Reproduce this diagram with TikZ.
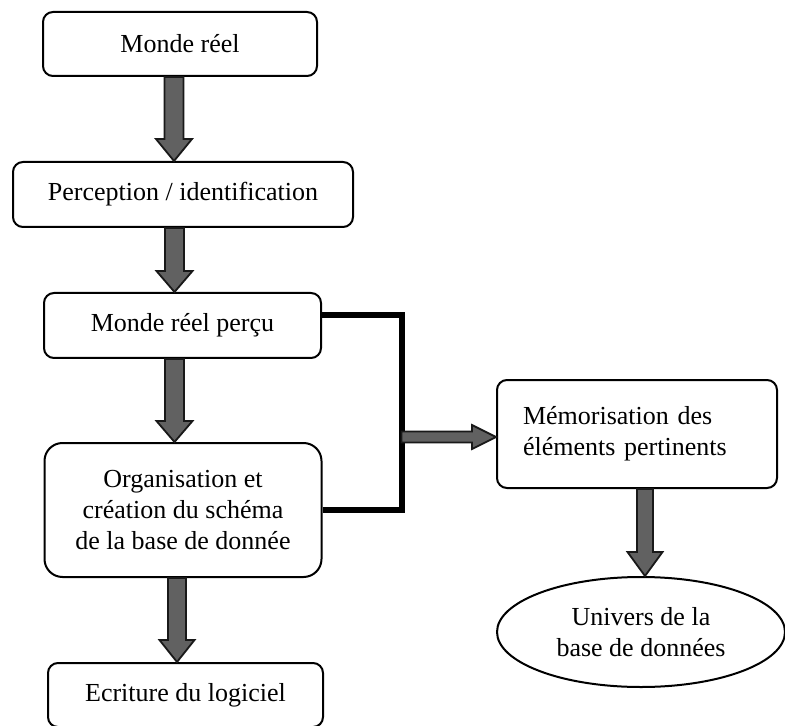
\documentclass[tikz,border=0pt]{standalone}
\usepackage{fontspec}
\setmainfont{Liberation Serif}
\usetikzlibrary{calc,shapes.geometric}
\tikzset{
  box/.style={draw=black, line width=1pt, rounded corners=5pt, align=center,
    inner sep=2pt, font=\fontsize{13pt}{15.5pt}\selectfont},
  oval/.style={draw=black, line width=1pt, ellipse, align=center, inner sep=0pt,
    font=\fontsize{13pt}{15.5pt}\selectfont},
  barrow/.style={fill=black!62, draw=black!90, line width=0.9pt, line join=miter},
  conn/.style={draw=black, line width=3pt, line join=miter}
}
% vertical block arrow: #1 x-coordinate name, #2 start anchor, #3 end anchor,
% #4 shaft half width, #5 head half width, #6 head length (pt)
\newcommand\varrow[6]{%
  \draw[barrow] let \p1=(#1|-#2), \p2=(#1|-#3) in
    (\x1-#4pt,\y1) -- (\x1-#4pt,\y2+#6pt) -- (\x1-#5pt,\y2+#6pt) -- (\x2,\y2)
    -- (\x1+#5pt,\y2+#6pt) -- (\x1+#4pt,\y2+#6pt) -- (\x1+#4pt,\y1) -- cycle;}
% horizontal block arrow to the right
\newcommand\harrow[6]{%
  \draw[barrow] let \p1=(#1|-#2), \p2=(#3|-#1) in
    (\x1,\y1+#4pt) -- (\x2-#6pt,\y1+#4pt) -- (\x2-#6pt,\y1+#5pt) -- (\x2,\y1)
    -- (\x2-#6pt,\y1-#5pt) -- (\x2-#6pt,\y1-#4pt) -- (\x1,\y1-#4pt) -- cycle;}
\begin{document}
\begin{tikzpicture}[x=0.5pt,y=-0.5pt]
\clip (0,0) rectangle (785,726);
\fill[white] (0,0) rectangle (785,726);

\node[box, minimum width=137pt, minimum height=32pt] (n1) at (180,44) {Monde réel};
\node[box, minimum width=170pt, minimum height=32.5pt] (n2) at (183,194.5) {Perception / identification};
\node[box, minimum width=138.5pt, minimum height=32.5pt] (n3) at (182.5,325.5) {Monde réel perçu};
\node[box, rounded corners=9pt, minimum width=138.5pt, minimum height=67pt] (n4) at (183,510)
  {Organisation et\\création du schéma\\de la base de donnée};
\node[box, minimum width=137.5pt, minimum height=32pt] (n5) at (185.5,695) {Ecriture du logiciel};
\node[box, align=left, text width=114pt, inner xsep=13pt, minimum height=54pt] (n6) at (637,434)
  {Mémorisation des\\éléments pertinents};
\node[oval, minimum width=144pt, minimum height=55pt] (n7) at (641,632)
  {Univers de la\\base de données};

% x positions of the block arrows
\coordinate (ax1) at (174,0);
\coordinate (ax2) at (174.5,0);
\coordinate (ax3) at (174.5,0);
\coordinate (ax4) at (177,0);
\coordinate (ax5) at (645,0);

\varrow{ax1}{n1.south}{n2.north}{4.75}{9}{11}
\varrow{ax2}{n2.south}{n3.north}{4.75}{9}{10.5}
\varrow{ax3}{n3.south}{n4.north}{4.75}{9}{10.5}
\varrow{ax4}{n4.south}{n5.north}{4.5}{8.75}{11}
\varrow{ax5}{n6.south}{n7.north}{4}{8.75}{12}

% merging connector
\coordinate (j1) at (401.5,437);
\draw[conn] ([yshift=5pt]n3.east) -| (j1|-n4.east) -- (n4.east);
\harrow{j1}{j1}{n6.west}{2.75}{6}{12}
\end{tikzpicture}
\end{document}
